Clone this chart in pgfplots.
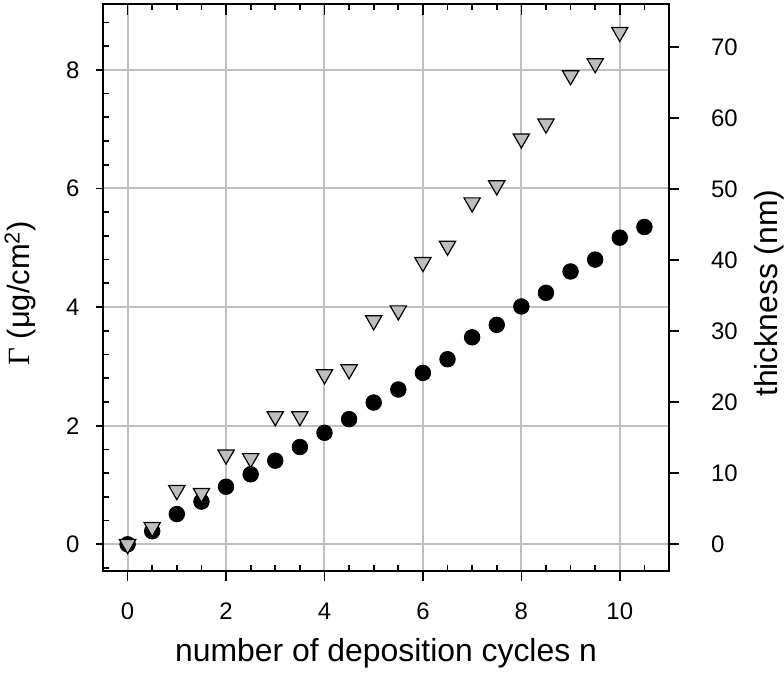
\documentclass[border=0pt]{standalone}
\usepackage{fontspec}
\setmainfont{Liberation Sans}
\newfontfamily\serifG{Liberation Serif}
\usepackage{pgfplots}
\pgfplotsset{compat=1.18}
\definecolor{gridgray}{RGB}{192,192,192}
\definecolor{trifill}{RGB}{190,190,190}
\pgfplotsset{
  base/.style={width=283bp, height=283.5bp, scale only axis,
    xmin=-0.5, xmax=11, ymin=-0.45, ymax=9.11,
    axis line style={line width=1.1bp, -},
    every tick/.style={black, line width=0.85bp},
    /pgf/number format/assume math mode=true,
    tick label style={font=\fontsize{12}{14}\selectfont},
    label style={font=\fontsize{16}{19}\selectfont}},
}
\begin{document}
\begin{tikzpicture}
% grid
\begin{axis}[base, name=A, axis line style={draw=none},
  xtick={0,2,...,10}, ytick={0,2,...,8}, xticklabels={}, yticklabels={},
  major tick length=0pt, grid=major, grid style={gridgray, line width=1bp}]
\end{axis}
% frame and minor ticks (inside)
\begin{axis}[base, xtick={0,2,...,10}, ytick={0,2,...,8}, xticklabels={}, yticklabels={},
  minor xtick={0.5,1,1.5,2.5,3,3.5,4.5,5,5.5,6.5,7,7.5,8.5,9,9.5,10.5},
  minor ytick={-0.4,0.4,0.8,1.2,1.6,2.4,2.8,3.2,3.6,4.4,4.8,5.2,5.6,6.4,6.8,7.2,7.6,8.4,8.8},
  xtick pos=both, ytick pos=left, tick align=inside, major tick length=0pt, minor tick length=3.2bp]
\end{axis}
% top axis major ticks
\begin{axis}[base, axis x line*=top, axis y line=none, xtick={0,2,...,10},
  xticklabels={}, tick align=inside, major tick length=5.5bp]
\end{axis}
% bottom axis
\begin{axis}[base, axis x line*=bottom, axis y line=none, xtick={0,2,...,10},
  tick align=outside, major tick length=5bp,
  xticklabel style={yshift=-7.5bp},
  xlabel={number of deposition cycles n},
  xlabel style={at={(axis description cs:0.5,-0.1605)}, anchor=base}]
\end{axis}
% left axis with circles
\begin{axis}[base, axis y line*=left, axis x line=none, ytick={0,2,...,8},
  tick align=outside, major tick length=3.7bp,
  yticklabel style={xshift=-4.6bp},
  ylabel={{\serifG Γ} (μg/cm\textsuperscript{2})},
  ylabel style={at={(axis description cs:-0.129,0.49)}, anchor=base, font=\fontsize{15.5}{18}\selectfont}]
\addplot[only marks, mark=*, mark size=3.9bp, mark options={draw=black, fill=black}] coordinates {
(0,0) (0.5,0.22) (1,0.51) (1.5,0.72) (2,0.97) (2.5,1.18) (3,1.41) (3.5,1.64)
(4,1.88) (4.5,2.11) (5,2.39) (5.5,2.61) (6,2.89) (6.5,3.12) (7,3.49) (7.5,3.70)
(8,4.01) (8.5,4.24) (9,4.60) (9.5,4.80) (10,5.17) (10.5,5.35)};
\end{axis}
% right axis with triangles
\begin{axis}[base, ymin=-3.76, ymax=76.06, axis y line*=right, axis x line=none,
  ytick={0,10,...,70}, tick align=outside, major tick length=5bp,
  yticklabel style={xshift=12.5bp},
  ylabel={thickness (nm)},
  ylabel style={at={(axis description cs:1.1908,0.49)}, anchor=base}]
\addplot[only marks, mark=triangle*, mark size=4.7bp, mark options={rotate=180, draw=black, fill=trifill, line width=0.6bp}] coordinates {
(0,0) (0.5,2.4) (1,7.6) (1.5,7.2) (2,12.6) (2.5,12.1) (3,18.0) (3.5,18.0)
(4,23.9) (4.5,24.6) (5,31.5) (5.5,32.9) (6,39.7) (6.5,42.0) (7,48.1) (7.5,50.5)
(8,57.1) (8.5,59.2) (9,66.0) (9.5,67.7) (10,72.1)};
\end{axis}
\pgfresetboundingbox
\path ([xshift=-51.5bp,yshift=-57bp]A.south west) rectangle ([xshift=57.5bp,yshift=2bp]A.north east);
\end{tikzpicture}
\end{document}
